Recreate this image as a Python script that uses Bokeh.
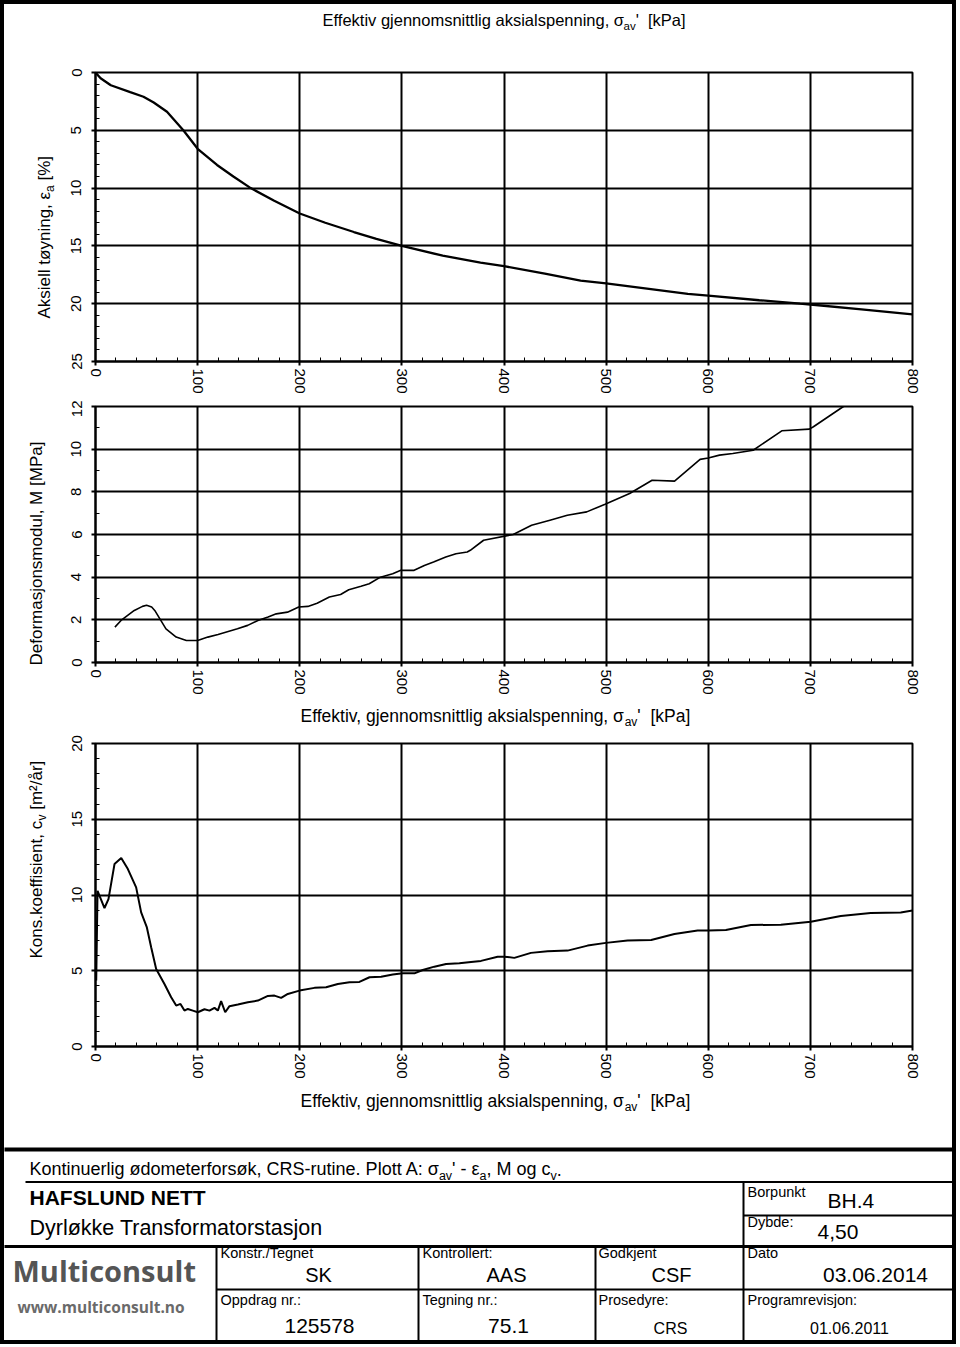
import math
from bokeh.plotting import figure
from bokeh.models import Range1d, FixedTicker, Label, ColumnDataSource
from bokeh.layouts import column, row
from bokeh.embed import file_html
from bokeh.resources import INLINE

# ---------------- data ----------------
stress_ticks = [0, 100, 200, 300, 400, 500, 600, 700, 800]
strain_ticks = [0, 5, 10, 15, 20, 25]
modulus_ticks = [0, 2, 4, 6, 8, 10, 12]
cv_ticks = [0, 5, 10, 15, 20]

strain_stress = [0, 5, 15, 34, 47, 57, 70, 86, 100, 119, 135, 152, 175, 200, 225,
                 253, 275, 300, 340, 377, 400, 440, 475, 500, 540, 580, 600, 650,
                 690, 700, 750, 800]
strain_pct = [0, 0.5, 1.1, 1.7, 2.1, 2.6, 3.4, 5.0, 6.6, 8.0, 9.0, 10.0, 11.1, 12.2,
              13.0, 13.8, 14.4, 15.0, 15.85, 16.45, 16.75, 17.4, 18.0, 18.25, 18.7,
              19.15, 19.3, 19.7, 20.0, 20.07, 20.5, 20.93]

mod_stress = [19, 25, 38, 46, 50, 55, 58, 69, 79, 89, 100, 110, 120, 139, 149, 159,
              169, 177, 188, 199, 208, 217, 229, 240, 248, 260, 268, 279, 291, 299,
              312, 322, 331, 343, 353, 364, 367, 380, 409, 427, 445, 462, 481, 499,
              523, 545, 567, 592, 600, 611, 624, 644, 672, 699, 703, 732, 770, 800]
mod_mpa = [1.66, 1.97, 2.44, 2.63, 2.68, 2.6, 2.44, 1.58, 1.19, 1.03, 1.03, 1.19,
           1.31, 1.58, 1.74, 1.97, 2.13, 2.28, 2.36, 2.6, 2.63, 2.78, 3.07, 3.19,
           3.41, 3.57, 3.69, 4.0, 4.16, 4.32, 4.32, 4.55, 4.71, 4.94, 5.1, 5.18,
           5.26, 5.73, 6.0, 6.43, 6.67, 6.9, 7.06, 7.42, 7.92, 8.54, 8.5, 9.52,
           9.59, 9.72, 9.8, 9.95, 10.86, 10.94, 11.05, 11.99, 12.8, 13.4]

cv_stress = [0.7, 2, 8.8, 12.7, 18.6, 25.2, 31.7, 39.8, 44.7, 50.3, 54.5, 59.4, 67.5,
             74.1, 79, 83.2, 87.1, 90.4, 95.3, 100.2, 106.7, 111.6, 116.5, 119.8, 123,
             127, 131.2, 139.4, 149.2, 159, 168.8, 175.2, 181.8, 188.3, 199.7, 214.4,
             225.8, 237.3, 248.7, 258.4, 268.3, 279.7, 291.1, 300.9, 312.3, 320.4,
             331.8, 343.3, 356.3, 367.7, 377.5, 393.8, 400.3, 410.1, 426.4, 442.7,
             462.3, 481.9, 499.8, 521, 544.1, 566.9, 589.6, 600.3, 617.3, 641.8,
             671.1, 700.4, 729.8, 759.1, 788.5, 800]
cv_value = [4.35, 10.28, 9.14, 9.73, 12.04, 12.44, 11.71, 10.5, 8.85, 7.86, 6.55, 5.12,
            4.13, 3.25, 2.7, 2.81, 2.37, 2.48, 2.37, 2.26, 2.46, 2.37, 2.55, 2.37,
            2.99, 2.26, 2.66, 2.77, 2.92, 3.03, 3.34, 3.36, 3.21, 3.47, 3.69, 3.87,
            3.91, 4.13, 4.24, 4.26, 4.57, 4.61, 4.75, 4.83, 4.83, 5.05, 5.27, 5.45,
            5.49, 5.58, 5.65, 5.93, 5.93, 5.85, 6.18, 6.28, 6.33, 6.66, 6.84, 6.99,
            7.03, 7.43, 7.65, 7.65, 7.69, 8.02, 8.04, 8.24, 8.62, 8.81, 8.85, 8.97]

# ---------------- layout constants (page pixels) ----------------
FONT = "Liberation Sans"
B = 4                      # outer border width
PAGE_W = 948               # inner content width
FL, FR = 95, 912           # frame left / right (page x)
LAB_W = 56                 # width of the strip holding the rotated y titles
BASE_K = 0.4               # label anchor correction (fraction of font size)

W = {' ': 278, "'": 191, ',': 278, '-': 333, '.': 278, '/': 278, ':': 278, '[': 278,
     ']': 278, '%': 889, '²': 333, 'σ': 570, 'ε': 440, 'ø': 611, 'å': 556,
     'A': 667, 'B': 667, 'C': 722, 'D': 722, 'E': 667, 'F': 611, 'G': 778, 'H': 722,
     'I': 278, 'K': 667, 'L': 556, 'M': 833, 'N': 722, 'O': 778, 'P': 667, 'R': 722,
     'S': 667, 'T': 611, 'U': 722, 'a': 556, 'b': 556, 'c': 500, 'd': 556, 'e': 556,
     'f': 278, 'g': 556, 'h': 556, 'i': 222, 'j': 222, 'k': 500, 'l': 222, 'm': 833,
     'n': 556, 'o': 556, 'p': 556, 'r': 333, 's': 500, 't': 278, 'u': 556, 'v': 500,
     'y': 500}


def text_w(s, size):
    return sum(W.get(ch, 556) for ch in s) / 1000.0 * size


def no_align(p):
    if "frame_align" in p.properties():
        p.frame_align = False


def rich(p, pieces, x0, y0, angle=0.0):
    """Text with sub-scripts, made of several labels placed one after another."""
    cum = 0.0
    for txt, size, shift in pieces:
        lead = len(txt) - len(txt.lstrip(' '))
        cum += lead * 0.278 * size
        t = txt.lstrip(' ')
        if angle == 0:
            X, Y = x0 + cum, y0 + shift - BASE_K * size
        else:
            X, Y = x0 + shift - BASE_K * size, y0 - cum
        p.add_layout(Label(x=X, y=Y, x_units="data", y_units="data", text=t,
                           angle=angle, text_font=FONT, text_font_size=f"{size}px",
                           text_color="black", text_align="left",
                           text_baseline="alphabetic"))
        cum += text_w(t, size)


def canvas(x0, y0, w, h):
    """A blank figure whose data coordinates are page pixels."""
    c = figure(title=None, frame_width=w, frame_height=h,
               x_range=Range1d(x0, x0 + w), y_range=Range1d(y0 + h, y0),
               x_axis_location=None, y_axis_location=None, min_border=0,
               output_backend="svg", toolbar_location=None)
    c.grid.visible = False
    c.outline_line_color = None
    c.background_fill_color = "white"
    c.border_fill_color = "white"
    no_align(c)
    return c


def make_plot(fig_top, fig_bot, fr_top, fr_bot, yr, y_ticks, y_minor):
    p = figure(title=None, frame_width=FR - FL, frame_height=fr_bot - fr_top,
               x_range=Range1d(0, 800), y_range=yr,
               min_border_left=FL - B - LAB_W, min_border_right=B + PAGE_W - FR,
               min_border_top=fr_top - fig_top, min_border_bottom=fig_bot - fr_bot,
               output_backend="svg", toolbar_location=None)
    no_align(p)
    p.background_fill_color = "white"
    p.border_fill_color = "white"
    p.xaxis.ticker = FixedTicker(ticks=stress_ticks, minor_ticks=list(range(0, 801, 20)))
    p.yaxis.ticker = FixedTicker(ticks=y_ticks, minor_ticks=y_minor)
    p.xgrid.ticker = FixedTicker(ticks=stress_ticks)
    p.ygrid.ticker = FixedTicker(ticks=y_ticks)
    for ax in (p.xaxis[0], p.yaxis[0]):
        ax.axis_line_color = "black"
        ax.axis_line_width = 2
        ax.major_tick_in = 0
        ax.major_tick_out = 4
        ax.major_tick_line_color = "black"
        ax.major_tick_line_width = 2
        ax.minor_tick_in = 4
        ax.minor_tick_out = 0
        ax.minor_tick_line_color = "black"
        ax.minor_tick_line_width = 1
        ax.major_label_orientation = "vertical"
        ax.major_label_text_font = FONT
        ax.major_label_text_font_size = "15px"
        ax.major_label_text_color = "black"
    p.xaxis.major_label_standoff = 3
    p.yaxis.major_label_standoff = 10
    p.grid.grid_line_color = "black"
    p.grid.grid_line_width = 2
    p.outline_line_color = "black"
    p.outline_line_width = 2
    return p


XLAB = [("Effektiv, gjennomsnittlig aksialspenning, σ", 17.5, 0), ("av", 12, 4),
        ("'", 17.5, 0), ("  [kPa]", 17.5, 0)]

# ---------------- top: strain ----------------
hdrA = canvas(B, B, PAGE_W, 64)
rich(hdrA, [("Effektiv gjennomsnittlig aksialspenning, σ", 16.5, 0), ("av", 11.5, 4),
            ("'", 16.5, 0), ("  [kPa]", 16.5, 0)], 322, 26)

labA = canvas(B, 68, LAB_W, 332)
rich(labA, [("Aksiell tøyning, ε", 17, 0), ("a", 12, 3.5), (" [%]", 17, 0)],
     51, 318, angle=math.pi / 2)
pA = make_plot(68, 400, 72, 361, Range1d(25, 0), strain_ticks, list(range(0, 26)))
pA.line(strain_stress, strain_pct, line_color="black", line_width=2.3)

# ---------------- middle: modulus ----------------
labB = canvas(B, 400, LAB_W, 300)
rich(labB, [("Deformasjonsmodul, M [MPa]", 17, 0)], 42.5, 665, angle=math.pi / 2)
pB = make_plot(400, 700, 406, 662, Range1d(0, 12), modulus_ticks, list(range(0, 13)))
pB.line(mod_stress, mod_mpa, line_color="black", line_width=1.6)

xlabB = canvas(B, 700, PAGE_W, 32)
rich(xlabB, XLAB, 300, 722)

# ---------------- bottom: cv ----------------
labC = canvas(B, 732, LAB_W, 353)
rich(labC, [("Kons.koeffisient, c", 17, 0), ("v", 12, 3.5), (" [m²/år]", 17, 0)],
     42.5, 958, angle=math.pi / 2)
pC = make_plot(732, 1085, 743, 1046, Range1d(0, 20), cv_ticks, list(range(0, 21)))
pC.line(cv_stress, cv_value, line_color="black", line_width=2)

xlabC = canvas(B, 1085, PAGE_W, 61)
rich(xlabC, XLAB, 300, 1107)

# ---------------- title block ----------------
pD = canvas(B, 1146, PAGE_W, 194)
seg = ColumnDataSource(dict(
    x0=[0, 25, 0, 216, 743, 216, 418, 595, 743],
    y0=[1149, 1181.5, 1246, 1289, 1215, 1246, 1246, 1246, 1181.5],
    x1=[960, 960, 960, 960, 960, 216, 418, 595, 743],
    y1=[1149, 1181.5, 1246, 1289, 1215, 1345, 1345, 1345, 1345],
    w=[4, 2, 3, 2, 2, 2, 2, 2, 2]))
pD.segment("x0", "y0", "x1", "y1", source=seg, line_color="black", line_width="w")

rich(pD, [("Kontinuerlig ødometerforsøk, CRS-rutine. Plott A: σ", 18, 0), ("av", 12.5, 4),
          ("' - ε", 18, 0), ("a", 12.5, 4), (", M og c", 18, 0), ("v", 12.5, 4),
          (".", 18, 0)], 29, 1176)


def put(text, x, y, size, align="left", bold=False, font=FONT, color="black"):
    pD.add_layout(Label(x=x, y=y - BASE_K * size, x_units="data", y_units="data",
                        text=text, text_font=font, text_font_size=f"{size}px",
                        text_font_style="bold" if bold else "normal",
                        text_color=color, text_align=align,
                        text_baseline="alphabetic"))


put("HAFSLUND NETT", 29, 1205, 21, bold=True)
put("Dyrløkke Transformatorstasjon", 29, 1236, 21.5)
put("Borpunkt", 747, 1197, 14.5)
put("BH.4", 827, 1208, 21)
put("Dybde:", 747, 1227, 14.5)
put("4,50", 817, 1240, 21)
put("Konstr./Tegnet", 220, 1258, 14.5)
put("SK", 318, 1282, 20, align="center")
put("Kontrollert:", 422, 1258, 14.5)
put("AAS", 506, 1282, 20, align="center")
put("Godkjent", 598, 1258, 14.5)
put("CSF", 671, 1282, 20, align="center")
put("Dato", 747, 1258, 14.5)
put("03.06.2014", 875, 1283, 21, align="center")
put("Oppdrag nr.:", 220, 1305, 14.5)
put("125578", 319, 1334, 21, align="center")
put("Tegning nr.:", 422, 1305, 14.5)
put("75.1", 508, 1334, 21, align="center")
put("Prosedyre:", 598, 1305, 14.5)
put("CRS", 670, 1334, 16, align="center")
put("Programrevisjon:", 747, 1305, 14.5)
put("01.06.2011", 849, 1334, 16, align="center")
put("Multiconsult", 12, 1282, 29, bold=True, font="Open Sans", color="#555555")
put("www.multiconsult.no", 17, 1313, 15.5, bold=True, font="Open Sans", color="#6a6a6a")

layout = column(hdrA, row(labA, pA, spacing=0), row(labB, pB, spacing=0), xlabB,
                row(labC, pC, spacing=0), xlabC, pD, spacing=0,
                styles={"border": f"{B}px solid black", "box-sizing": "content-box",
                        "background-color": "white"})

open("out.html", "w").write(file_html(layout, INLINE))
